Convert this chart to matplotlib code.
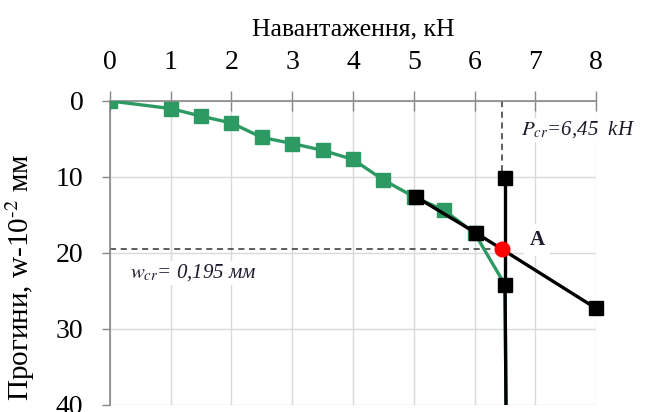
import matplotlib
matplotlib.use("Agg")
import matplotlib.pyplot as plt

plt.rcParams['font.family'] = ['Liberation Serif', 'DejaVu Serif']
plt.rcParams['mathtext.fontset'] = 'stix'

# Load-deflection test data (load in kN, deflection in 10^-2 mm)
load = [0, 1, 1.5, 2, 2.5, 3, 3.5, 4, 4.5, 5, 5.5, 6, 6.5, 6.52]
deflection = [0, 1.0, 2.0, 2.9, 4.8, 5.6, 6.5, 7.7, 10.4, 12.6, 14.4, 17.4, 24.2, 45]

# Tangent lines used to find the critical point
tan1_load = [5.03, 6.03, 8.0]
tan1_defl = [12.6, 17.4, 27.3]
tan2_load = [6.5, 6.5, 6.52]
tan2_defl = [10.2, 24.2, 45]

p_cr = 6.45
w_cr = 19.5

green = '#2e9a63'
text_col = '#1c1c2e'

fig = plt.figure(figsize=(6.46, 4.12), dpi=100)
ax = fig.add_axes([0.170, 0.017, 0.753, 0.738])

ax.plot(load, deflection, color=green, lw=2.4, marker='s', ms=9.5,
        markevery=list(range(12)), zorder=3)
ax.plot(tan1_load, tan1_defl, color='black', lw=2.4, marker='s', ms=9.5,
        zorder=4, clip_on=False)
ax.plot(tan2_load[:2], tan2_defl[:2], color='black', lw=2.4, marker='s', ms=9.5,
        zorder=4, clip_on=False)
ax.plot(tan2_load[1:], tan2_defl[1:], color='black', lw=2.4, zorder=4)

ax.plot([p_cr, p_cr], [0, 10.2], color='#333333', lw=1.1, ls=(0, (4, 3)), zorder=2)
ax.plot([0, p_cr], [w_cr, w_cr], color='#333333', lw=1.1, ls=(0, (4, 3)), zorder=2)
ax.plot([p_cr], [w_cr], 'o', color='red', ms=10.5, zorder=6)

ax.text(6.77, 3.8, r"$P_{cr}$=6,45  kH", style='italic', fontsize=15,
        color=text_col, va='center', ha='left',
        bbox=dict(facecolor='white', edgecolor='none', pad=1), clip_on=False, zorder=5)
ax.text(0.33, 22.6, r"$w_{cr}$= 0,195 мм", style='italic', fontsize=15,
        color=text_col, va='center', ha='left',
        bbox=dict(facecolor='white', edgecolor='none', pad=1), zorder=5)
ax.text(6.9, 18.3, "A", fontweight='bold', fontsize=15, color=text_col,
        va='center', ha='left',
        bbox=dict(facecolor='white', edgecolor='none', pad=4), zorder=5)

ax.set_xlim(0, 8)
ax.set_ylim(40, 0)
ax.xaxis.tick_top()
ax.xaxis.set_label_position('top')
ax.set_xticks(range(0, 9))
ax.set_yticks([0, 10, 20, 30, 40])
ax.set_xlabel("Навантаження, кН", fontsize=18.5, labelpad=10)
ax.set_ylabel(r"Прогини, w-10$^{\text{-2}}$ мм", fontsize=21)
ax.yaxis.set_label_coords(-0.15, 0.42)
ax.tick_params(axis='x', direction='inout', length=14, width=1, color='#888888',
               labelsize=20, pad=12)
ax.tick_params(axis='y', direction='out', length=6, width=1, color='#888888',
               labelsize=20, pad=13)

ax.grid(True, color='#d9d9d9', lw=1, zorder=0)
ax.set_axisbelow(True)
for side in ('right', 'bottom'):
    ax.spines[side].set_visible(False)
for side in ('top', 'left'):
    ax.spines[side].set_color('#888888')
    ax.spines[side].set_linewidth(1.2)

fig.savefig('out.png', dpi=100, facecolor='white')
